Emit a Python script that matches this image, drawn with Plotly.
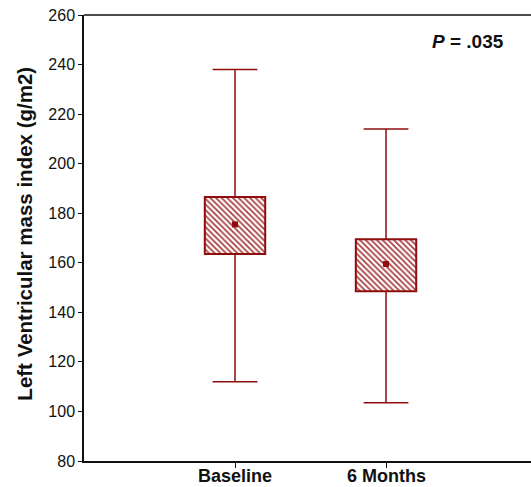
import plotly.graph_objects as go

categories = ["Baseline", "6 Months"]
upper = [238, 214]
q3 = [186.5, 169.5]
mean = [175.5, 159.5]
q1 = [163.5, 148.5]
lower = [112, 103.5]
y_ticks = [80, 100, 120, 140, 160, 180, 200, 220, 240, 260]

RED = "#8e0c0c"
xs = list(range(len(categories)))

fig = go.Figure()

# whiskers
wx, wy = [], []
for i in xs:
    wx += [i, i, None, i, i, None]
    wy += [lower[i], q1[i], None, q3[i], upper[i], None]
fig.add_trace(go.Scatter(x=wx, y=wy, mode="lines", line=dict(color=RED, width=1.5),
                         hoverinfo="skip", showlegend=False))
# caps
fig.add_trace(go.Scatter(x=xs + xs, y=upper + lower, mode="markers",
                         marker=dict(symbol="line-ew", size=32, line=dict(color=RED, width=1.5)),
                         hoverinfo="skip", showlegend=False))
# boxes
fig.add_trace(go.Bar(x=xs, y=[q3[i] - q1[i] for i in xs], base=q1, width=0.4,
                     marker=dict(color="white", line=dict(color=RED, width=2),
                                 pattern=dict(shape="\\", fgcolor="#a83a3a", bgcolor="#ffffff",
                                              size=4, solidity=0.42)),
                     showlegend=False))
# means
fig.add_trace(go.Scatter(x=xs, y=mean, mode="markers",
                         marker=dict(symbol="square", size=6, color=RED),
                         showlegend=False))

annotations = [
    dict(text="<b>Left Ventricular mass index (g/m2)</b>", textangle=-90,
         xref="paper", yref="paper", x=-0.134, y=0.51, xanchor="center", yanchor="middle",
         showarrow=False, font=dict(size=20.5)),
    dict(text="<b><i>P</i> = .035</b>", xref="paper", yref="paper", x=0.86, y=0.94,
         xanchor="center", yanchor="middle", showarrow=False, font=dict(size=19)),
]
for i, c in zip(xs, categories):
    annotations.append(dict(text="<b>%s</b>" % c, xref="x", yref="paper", x=i, y=0,
                            yshift=-15, xanchor="center", yanchor="middle",
                            showarrow=False, font=dict(size=18)))

fig.update_layout(
    template="none",
    width=531, height=487,
    margin=dict(l=84, r=0, t=15, b=26),
    plot_bgcolor="white", paper_bgcolor="white",
    font=dict(family="Liberation Sans, Arial, sans-serif", color="#111"),
    xaxis=dict(range=[-1, 1.96], tickmode="array", tickvals=xs, showticklabels=False,
               ticks="outside", ticklen=5, tickcolor="#111",
               showline=True, linecolor="#111", linewidth=1.5, mirror=False,
               showgrid=False, zeroline=False, automargin=False),
    yaxis=dict(range=[80, 260], tickmode="array", tickvals=y_ticks,
               tickfont=dict(size=16), ticks="outside", ticklen=4, tickcolor="#111",
               showline=True, linecolor="#111", linewidth=1.5, mirror=False,
               showgrid=False, zeroline=False, automargin=False),
    annotations=annotations,
    shapes=[dict(type="line", xref="paper", yref="paper", x0=0, x1=1, y0=1, y1=1,
                 line=dict(color="#111", width=1.5))],
)

fig.write_html("out.html", config={"displayModeBar": False},
               post_script="document.body.style.margin='0';"
                           "document.body.style.overflow='hidden';"
                           "document.documentElement.style.overflow='hidden';")
